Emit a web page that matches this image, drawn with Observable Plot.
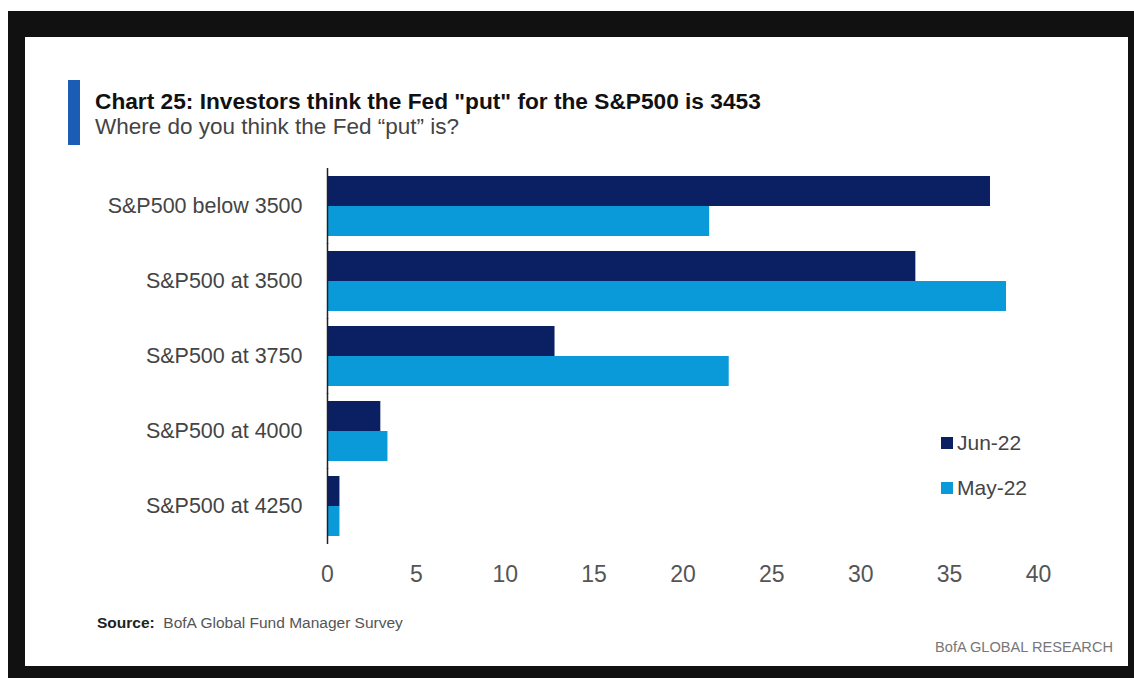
<!DOCTYPE html>
<html>
<head>
<meta charset="utf-8">
<script src="https://cdn.jsdelivr.net/npm/d3@7"></script>
<script src="https://cdn.jsdelivr.net/npm/@observablehq/plot@0.6"></script>
<style>
  html, body { margin: 0; padding: 0; background: #fff; }
  body { width: 1134px; height: 678px; position: relative; overflow: hidden;
         font-family: "Liberation Sans", Arial, sans-serif; }
  .abs { position: absolute; white-space: nowrap; }
  #frame { left: 8px; top: 11px; width: 1126px; height: 667px; background: #111; }
  #card { left: 25px; top: 37px; width: 1103px; height: 629px; background: #fff; }
  #bluebar { left: 68px; top: 80px; width: 12px; height: 65px; background: #1b5cb5; }
  #title { left: 95px; top: 88px; font-size: 22.7px; line-height: 26px; font-weight: bold; color: #111; }
  #subtitle { left: 95px; top: 115px; font-size: 22.5px; line-height: 24px; color: #444; }
  #chart { left: 25px; top: 150px; }
  .leg { font-size: 21px; line-height: 26px; color: #444; }
  .sw { position: absolute; width: 12px; height: 12px; }
  #source { left: 97px; top: 613px; font-size: 15.5px; line-height: 20px; color: #555; }
  #source b { color: #222; }
  #brand { right: 21px; top: 637px; font-size: 14.6px; line-height: 20px; color: #777; }
</style>
</head>
<body>
<div id="frame" class="abs"></div>
<div id="card" class="abs"></div>
<div id="bluebar" class="abs"></div>
<div id="title" class="abs">Chart 25: Investors think the Fed "put" for the S&amp;P500 is 3453</div>
<div id="subtitle" class="abs">Where do you think the Fed “put” is?</div>
<div id="chart" class="abs"></div>
<div id="legend"></div>
<div id="source" class="abs"><b>Source:</b>&nbsp; BofA Global Fund Manager Survey</div>
<div id="brand" class="abs">BofA GLOBAL RESEARCH</div>
<script>
const categories = ["S&P500 below 3500", "S&P500 at 3500", "S&P500 at 3750", "S&P500 at 4000", "S&P500 at 4250"];
const seriesNames = ["Jun-22", "May-22"];
const jun22 = [37.3, 33.1, 12.8, 3.0, 0.7];
const may22 = [21.5, 38.2, 22.6, 3.4, 0.7];
const xTicks = [0, 5, 10, 15, 20, 25, 30, 35, 40];
const seriesColors = ["#0b1f63", "#0b9ad9"];

const rows = [];
categories.forEach((c, i) => {
  rows.push({category: c, series: seriesNames[0], value: jun22[i]});
  rows.push({category: c, series: seriesNames[1], value: may22[i]});
});

const FONT = '"Liberation Sans", Arial, sans-serif';

const chart = Plot.plot({
  width: 1103,
  height: 450,
  marginLeft: 302,
  marginRight: 90,
  marginTop: 17,
  marginBottom: 56,
  style: {fontFamily: FONT, color: "#555", background: "transparent", overflow: "visible"},
  x: {domain: [0, 40]},
  y: {domain: seriesNames, padding: 0, axis: null},
  fy: {domain: categories, paddingInner: 0.2, paddingOuter: 0.1},
  color: {domain: seriesNames, range: seriesColors},
  marks: [
    Plot.barX(rows, {x: "value", y: "series", fy: "category", fill: "series"}),
    Plot.ruleX([0], {stroke: "#222", strokeWidth: 1.5, insetTop: -8, insetBottom: -8}),
    Plot.axisX(xTicks, {tickSize: 0, tickPadding: 29, fontSize: 23, label: null, fill: "#555"}),
    Plot.axisFy({anchor: "left", tickSize: 0, tickPadding: 25, fontSize: 21.5, label: null, fill: "#444"})
  ]
});
document.getElementById("chart").appendChild(chart);

const legend = document.getElementById("legend");
const legTops = [436, 481];
seriesNames.forEach((s, i) => {
  const sw = document.createElement("div");
  sw.className = "sw";
  sw.style.left = "941px";
  sw.style.top = (legTops[i] + 1) + "px";
  sw.style.background = seriesColors[i];
  legend.appendChild(sw);
  const t = document.createElement("div");
  t.className = "abs leg";
  t.style.left = "957px";
  t.style.top = (legTops[i] - 6) + "px";
  t.textContent = s;
  legend.appendChild(t);
});
</script>
</body>
</html>
